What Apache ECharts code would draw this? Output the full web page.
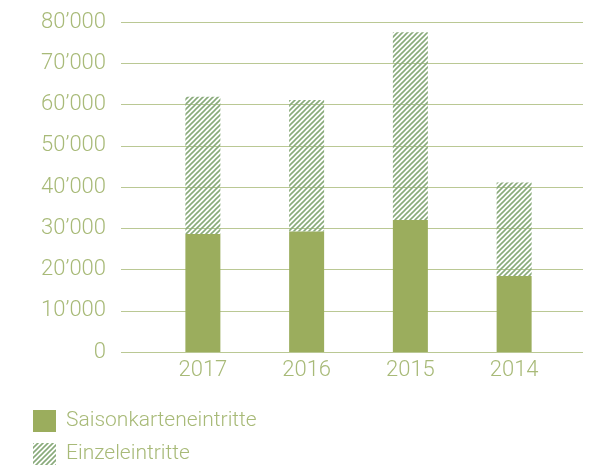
<!DOCTYPE html>
<html>
<head>
<meta charset="utf-8">
<script src="https://cdn.jsdelivr.net/npm/echarts@6/dist/echarts.min.js"></script>
<style>
  html, body { margin: 0; padding: 0; background: #fff; }
  #chart { width: 592px; height: 466px; }
</style>
</head>
<body>
<div id="chart"></div>
<script>
// 年份
const years = ["2017", "2016", "2015", "2014"];
// 季票入场
const saisonData = [28600, 29200, 32000, 18400];
// 单次入场
const einzelData = [33300, 31900, 45500, 22700];
// Y轴刻度
const yTicks = [0, 10000, 20000, 30000, 40000, 50000, 60000, 70000, 80000];

const textColor = "#a8ba78";
const gridColor = "#bac894";
const solidColor = "#9bad5d";
const hatchColor = "#88aa7a";
const fontFamily = "Roboto, 'Liberation Sans', sans-serif";

// 斜线填充
function makeHatch() {
  const c = document.createElement("canvas");
  c.width = 5;
  c.height = 5;
  const ctx = c.getContext("2d");
  ctx.strokeStyle = hatchColor;
  ctx.lineWidth = 1.6;
  ctx.beginPath();
  ctx.moveTo(0, 5);
  ctx.lineTo(5, 0);
  ctx.moveTo(-1, 1);
  ctx.lineTo(1, -1);
  ctx.moveTo(4, 6);
  ctx.lineTo(6, 4);
  ctx.stroke();
  return c;
}

function fmt(v) {
  if (v === 0) return "0";
  return String(v / 1000) + "\u2019000";
}

const chart = echarts.init(document.getElementById("chart"));
const hatch = { image: makeHatch(), repeat: "repeat" };

chart.setOption({
  animation: false,
  textStyle: { fontFamily: fontFamily },
  legend: {
    orient: "vertical",
    left: 33,
    top: 410,
    height: 56,
    padding: 0,
    itemWidth: 23,
    itemHeight: 22,
    itemGap: 11,
    icon: "rect",
    textStyle: {
      color: textColor,
      fontSize: 21,
      fontWeight: 300,
      fontFamily: fontFamily,
      padding: [0, 0, 0, 5]
    },
    data: ["Saisonkarteneintritte", "Einzeleintritte"]
  },
  grid: [
    { left: 121, right: 9, top: 22, bottom: 114 },
    { left: 151, right: 26, top: 22, bottom: 114 }
  ],
  xAxis: [
    { gridIndex: 0, type: "value", show: false, min: 0, max: 1 },
    {
      gridIndex: 1,
      type: "category",
      data: years,
      axisLine: { show: false },
      axisTick: { show: false },
      axisLabel: { color: textColor, fontSize: 22, fontWeight: 300, margin: 7 }
    }
  ],
  yAxis: [
    {
      gridIndex: 0,
      type: "value",
      min: yTicks[0],
      max: yTicks[yTicks.length - 1],
      interval: yTicks[1] - yTicks[0],
      axisLine: { show: false },
      axisTick: { show: false },
      splitLine: { lineStyle: { color: gridColor, width: 1 } },
      axisLabel: { color: textColor, fontSize: 22, fontWeight: 300, margin: 15, formatter: fmt }
    },
    {
      gridIndex: 1,
      type: "value",
      min: yTicks[0],
      max: yTicks[yTicks.length - 1],
      show: false,
      splitLine: { show: false }
    }
  ],
  series: [
    {
      name: "Saisonkarteneintritte",
      type: "bar",
      stack: "total",
      xAxisIndex: 1,
      yAxisIndex: 1,
      barWidth: 35,
      data: saisonData,
      itemStyle: { color: solidColor }
    },
    {
      name: "Einzeleintritte",
      type: "bar",
      stack: "total",
      xAxisIndex: 1,
      yAxisIndex: 1,
      barWidth: 35,
      data: einzelData,
      itemStyle: { color: hatch }
    }
  ]
});
</script>
</body>
</html>
